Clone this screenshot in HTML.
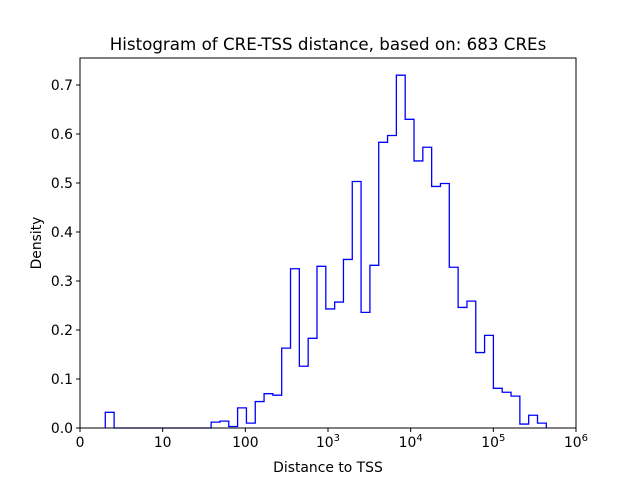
<!DOCTYPE html>
<html><head><meta charset="utf-8"><style>body{margin:0;background:#fff}svg{display:block;font-family:"DejaVu Sans","Liberation Sans",sans-serif}</style></head>
<body>
<svg id="chart" width="640" height="480">
<rect width="640" height="480" fill="#fff"/>
<text x="328" y="50" text-anchor="middle" font-size="16.7">Histogram of CRE-TSS distance, based on: 683 CREs</text>
<g id="plot"></g>
<text x="328" y="472" text-anchor="middle" font-size="13.9">Distance to TSS</text>
<text transform="translate(41,243) rotate(-90)" text-anchor="middle" font-size="13.9">Density</text>
</svg>
<script>
const binStart = 0.306;
const binWidth = 0.1067;
const densities = [0.032,0,0,0,0,0,0,0,0,0,0,0,0.012,0.014,0.003,0.041,0.01,0.054,0.07,0.067,0.163,0.325,0.126,0.183,0.33,0.243,0.257,0.344,0.503,0.236,0.332,0.583,0.597,0.72,0.63,0.545,0.573,0.493,0.499,0.328,0.246,0.259,0.154,0.189,0.081,0.073,0.065,0.008,0.026,0.01];
const xTickVals = [0,1,2,3,4,5,6];
const xTickLabels = ["0","10","100","10^3","10^4","10^5","10^6"];
const yTickVals = [0,0.1,0.2,0.3,0.4,0.5,0.6,0.7];
const yTickLabels = ["0.0","0.1","0.2","0.3","0.4","0.5","0.6","0.7"];

const L=80,R=576,T=58,B=428;
const xs=t=>L+t*(R-L)/6;
const ys=v=>B-v*490;
const NS="http://www.w3.org/2000/svg";
const g=document.getElementById('plot');
function mk(tag,attrs){const e=document.createElementNS(NS,tag);for(const k in attrs)e.setAttribute(k,attrs[k]);g.appendChild(e);return e;}

let d="M"+xs(binStart)+","+ys(0);
densities.forEach((v,i)=>{const x0=xs(binStart+i*binWidth),x1=xs(binStart+(i+1)*binWidth);d+=" L"+x0+","+ys(v)+" L"+x1+","+ys(v);});
d+=" L"+xs(binStart+densities.length*binWidth)+","+ys(0);
const p=mk('path',{d:d,fill:"none",stroke:"#0000ff","stroke-width":1.3});



const fr=mk('rect',{x:L,y:T,width:R-L,height:B-T,fill:"none",stroke:"#000","stroke-width":1});



xTickVals.forEach((t,i)=>{
 const x=xs(t);
 const tk=mk('line',{x1:x,x2:x,y1:B,y2:B+4,stroke:"#000"});
 
 
 const lab=xTickLabels[i];
 const tx=mk('text',{x:x,y:B+19,"text-anchor":"middle","font-size":13.9});
 
 
 if(lab.indexOf('^')>=0){const [b,e]=lab.split('^');
  const s1=document.createElementNS(NS,'tspan');s1.textContent=b;tx.appendChild(s1);
  const s2=document.createElementNS(NS,'tspan');s2.setAttribute('dy','-6');s2.setAttribute('font-size','10');s2.textContent=e;tx.appendChild(s2);
 } else tx.textContent=lab;
});
yTickVals.forEach((v,i)=>{
 const y=ys(v);
 const tk=mk('line',{x1:L-4,x2:L,y1:y,y2:y,stroke:"#000"});
 
 
 const tx=mk('text',{x:L-7,y:y+5,"text-anchor":"end","font-size":13.9});
 
 
 tx.textContent=yTickLabels[i];
});
</script>
</body></html>
